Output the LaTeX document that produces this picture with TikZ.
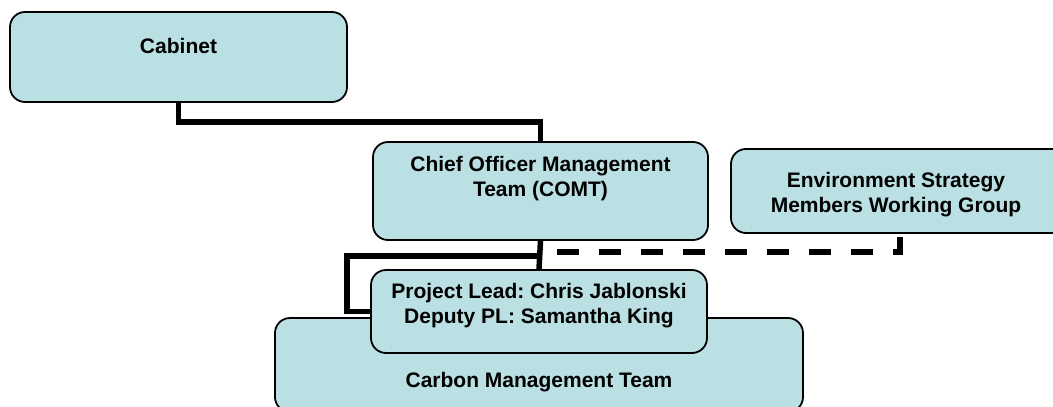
\documentclass[tikz,border=0pt]{standalone}
\usepackage{fontspec}
\setmainfont{Liberation Sans}
\frenchspacing
\definecolor{boxfill}{RGB}{186,224,227}
\tikzset{
orgbox/.style={draw, line width=1.8pt, fill=boxfill, rounded corners=15pt, inner sep=0pt},
orgtext/.style={align=center, font=\bfseries\fontsize{21}{25}\selectfont, inner sep=0pt},
link/.style={line width=5.5pt}
}
\newcommand{\orgunit}[7]{
\node[orgbox, minimum width=#4, minimum height=#5] (#1) at (#2,#3) {};
\node[orgtext] (#1text) at ([shift={(#6)}]#1.center) {#7};}

\begin{document}
\begin{tikzpicture}[x=1pt,y=-1pt]
\useasboundingbox (0,0) rectangle (1053,407);
\orgunit{cab}{178.5}{57}{337pt}{90pt}{0,-11}{Cabinet}
\orgunit{comt}{540.5}{191}{335pt}{98pt}{0,-12.5}{Chief Officer Management\\Team (COMT)}
\orgunit{esm}{911}{191}{360pt}{84pt}{-15,4}{Environment Strategy\\Members Working Group}
\orgunit{cmt}{539}{365}{528pt}{94pt}{0,17}{Carbon Management Team}
\orgunit{pl}{539}{311.5}{336pt}{83pt}{0,-6}{Project Lead: Chris Jablonski\\Deputy PL: Samantha King}
\draw[link] (cab.south) -- ++(0,19) -| (comt.north);
\draw[link] (comt.south) -- (pl.north);
\draw[link] ([yshift=-15pt]comt.south) -| ([xshift=-23pt]pl.west) -- (pl.west);
\draw[link, dash pattern=on 22pt off 20pt, dash phase=26pt] ([yshift=-11pt]comt.south) -| ([xshift=-11pt]esm.south);
\end{tikzpicture}
\end{document}
